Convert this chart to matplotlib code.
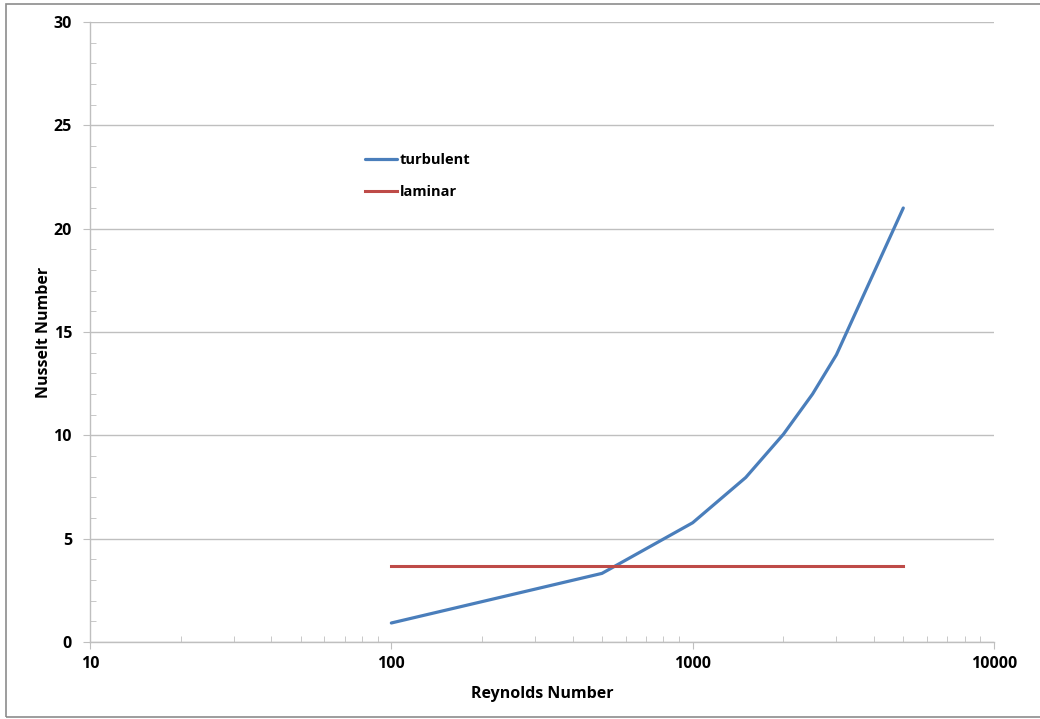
import matplotlib
matplotlib.use("Agg")
import matplotlib.pyplot as plt
from matplotlib.ticker import FixedLocator, LogLocator, NullFormatter, FuncFormatter
from matplotlib.patches import Rectangle

plt.rcParams['font.family'] = ['Open Sans', 'DejaVu Sans']

reynolds = [100, 500, 1000, 1500, 2000, 2500, 3000, 5000]
nu_turbulent = [0.92, 3.32, 5.77, 7.96, 10.05, 12.0, 13.9, 21.0]
laminar_re = [100, 5000]
nu_laminar = [3.66, 3.66]

fig = plt.figure(figsize=(10.4, 7.19), dpi=100)
W, H = 1040, 719
ax = fig.add_axes([90 / W, 1 - 642 / H, (994 - 90) / W, (642 - 22) / H])

ax.plot(reynolds, nu_turbulent, color='#4a7ebb', lw=2.3, label='turbulent', solid_capstyle='round', zorder=3)
ax.plot(laminar_re, nu_laminar, color='#be4b48', lw=2.2, label='laminar', zorder=3)

ax.set_xscale('log')
ax.set_xlim(10, 10000)
ax.set_ylim(0, 30)
ax.set_yticks([0, 5, 10, 15, 20, 25, 30])
ax.yaxis.set_minor_locator(FixedLocator([v for v in range(0, 31) if v % 5]))
ax.xaxis.set_major_locator(FixedLocator([10, 100, 1000, 10000]))
ax.xaxis.set_major_formatter(FuncFormatter(lambda v, p: f"{int(round(v))}"))
ax.xaxis.set_minor_locator(LogLocator(base=10, subs=range(2, 10)))
ax.xaxis.set_minor_formatter(NullFormatter())

for s in ['top', 'right']:
    ax.spines[s].set_visible(False)
for s in ['left', 'bottom']:
    ax.spines[s].set_color('#bfbfbf')
    ax.spines[s].set_linewidth(1.0)

ax.grid(axis='y', which='major', color='#bfbfbf', lw=1.0, zorder=0)
ax.tick_params(axis='both', which='major', direction='out', length=5, color='#bfbfbf',
               labelsize=11.5)
ax.tick_params(axis='both', which='minor', direction='in', length=4, color='#bfbfbf')
ax.tick_params(axis='y', which='major', pad=8)
ax.tick_params(axis='x', which='major', pad=5)
for lab in ax.get_xticklabels() + ax.get_yticklabels():
    lab.set_fontweight('bold')

ax.set_xlabel('Reynolds Number', fontsize=11.5, fontweight='bold', labelpad=10)
ax.set_ylabel('Nusselt Number', fontsize=11.5, fontweight='bold', labelpad=1)

ax.legend(loc='upper left', bbox_to_anchor=((352 - 90) / (994 - 90), (642 - 140) / 620),
          frameon=False, prop={'weight': 'bold', 'size': 10.5},
          handlelength=2.2, handletextpad=0.15, labelspacing=1.25)

fig.patches.append(Rectangle((6 / W, 2 / H), 1.1, 1 - 6 / H, transform=fig.transFigure,
                             fill=False, edgecolor='#8c8c8c', lw=1.2, zorder=0))

fig.savefig('out.png', dpi=100)
